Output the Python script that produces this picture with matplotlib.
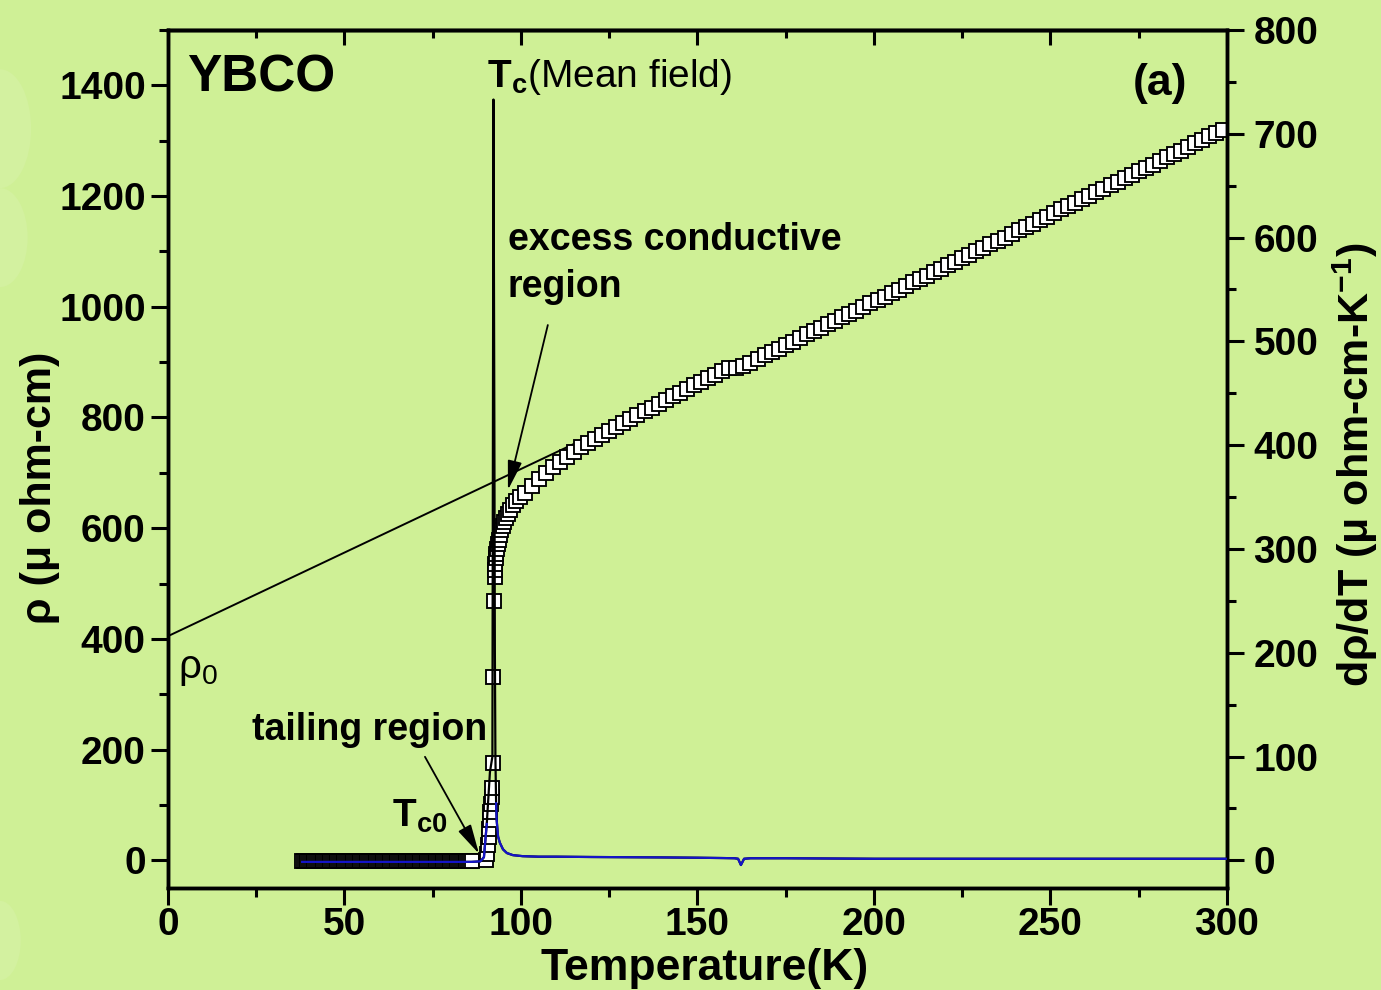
import numpy as np
import matplotlib.pyplot as plt
from matplotlib.ticker import MultipleLocator
from matplotlib.patches import Ellipse

plt.rcParams['font.family'] = ['Liberation Sans', 'DejaVu Sans']
plt.rcParams['mathtext.fontset'] = 'custom'
plt.rcParams['mathtext.rm'] = 'Liberation Sans'
plt.rcParams['mathtext.bf'] = 'Liberation Sans:bold'
plt.rcParams['mathtext.it'] = 'Liberation Sans:italic'
plt.rcParams['mathtext.default'] = 'regular'

# resistivity rho(T), micro-ohm cm
t_zero = [38.0, 38.5, 39.0, 39.5, 40.0, 40.5, 41.0, 41.5, 42.0, 42.5,
          43.0, 43.5, 44.0, 44.5, 45.0, 45.5, 46.0, 46.5, 47.0, 47.5,
          48.0, 48.5, 49.0, 49.5, 50.0, 50.5, 51.0, 51.5, 52.0, 52.5,
          53.0, 53.5, 54.0, 54.5, 55.0, 55.5, 56.0, 56.5, 57.0, 57.5,
          58.0, 58.5, 59.0, 59.5, 60.0, 60.5, 61.0, 61.5, 62.0, 62.5,
          63.0, 63.5, 64.0, 64.5, 65.0, 65.5, 66.0, 66.5, 67.0, 67.5,
          68.0, 68.5, 69.0, 69.5, 70.0, 70.5, 71.0, 71.5, 72.0, 72.5,
          73.0, 73.5, 74.0, 74.5, 75.0, 75.5, 76.0, 76.5, 77.0, 77.5,
          78.0, 78.5, 79.0, 79.5, 80.0, 80.5, 81.0, 81.5, 82.0, 82.5,
          83.0, 83.5, 84.0, 84.5, 85.0, 85.5, 86.0]
rho_zero = [-2.0] * len(t_zero)

t_tail = [90.0, 90.3, 90.6, 90.8, 91.0, 91.2, 91.35, 91.5, 91.65, 91.8, 91.95]
rho_tail = [0, 12, 27, 42, 57, 72, 87, 101, 115, 130, 175]

t_trans = [92.2, 92.45, 92.5, 92.6, 92.7, 92.85, 93.0, 93.2, 93.45, 93.7,
           94.0, 94.4, 94.8, 95.2, 95.7, 96.3, 97.0, 97.8, 98.7, 99.7]
rho_trans = [332, 469, 511, 525, 536, 546, 554, 562, 571, 579,
             587, 596, 604, 611, 618, 625, 633, 641, 649, 656]

t_normal = [101, 103, 105, 107, 109, 111, 113, 115, 117, 119,
            121, 123, 125, 127, 129, 131, 133, 135, 137, 139,
            141, 143, 145, 147, 149, 151, 153, 155, 157, 159,
            161, 163, 165, 167, 169, 171, 173, 175, 177, 179,
            181, 183, 185, 187, 189, 191, 193, 195, 197, 199,
            201, 203, 205, 207, 209, 211, 213, 215, 217, 219,
            221, 223, 225, 227, 229, 231, 233, 235, 237, 239,
            241, 243, 245, 247, 249, 251, 253, 255, 257, 259,
            261, 263, 265, 267, 269, 271, 273, 275, 277, 279,
            281, 283, 285, 287, 289, 291, 293, 295, 297, 299]
rho_normal = [664, 677, 689, 700, 710, 720, 729, 738, 746, 754,
              762, 769, 776, 783, 790, 797, 804, 811, 818, 825,
              832, 838, 845, 851, 858, 864, 871, 877, 884, 890,
              889, 893, 899, 906, 912, 918, 924, 931, 937, 943,
              950, 956, 962, 968, 975, 981, 987, 993, 1000, 1006,
              1012, 1018, 1025, 1031, 1037, 1044, 1050, 1056, 1062, 1069,
              1075, 1081, 1088, 1094, 1100, 1106, 1113, 1119, 1125, 1132,
              1138, 1144, 1150, 1157, 1163, 1169, 1176, 1182, 1188, 1194,
              1201, 1207, 1213, 1220, 1226, 1232, 1238, 1245, 1251, 1257,
              1264, 1270, 1276, 1282, 1289, 1295, 1301, 1308, 1314, 1320]

# d(rho)/dT, micro-ohm cm / K
t_deriv = [38, 50, 60, 70, 80, 86, 88.5, 89.5, 90.3, 91.2,
           91.9, 92.2, 92.45, 92.6, 92.75, 92.95, 93.1, 93.5, 94.0, 94.9,
           96.0, 97.7, 100.5, 105, 110, 120, 130, 140, 150, 157,
           160.5, 161.5, 162.3, 163.2, 165, 175, 200, 225, 250, 275, 300]
drho_dT = [-1.5, -1.5, -1.5, -1.5, -1.5, -1.5, -1, 3, 35, 85,
           100, 733, 420, 200, 100, 55, 39, 23, 17, 10.6,
           7, 5, 4, 3.5, 3.5, 3.2, 3, 2.8, 2.5, 2.2,
           2, 1.5, -4.5, 1.5, 2, 2, 1.5, 1.5, 1.5, 1.5, 1.5]

# linear normal-state fit extrapolated to T = 0 (rho_0)
fit_T = [0, 300]
fit_rho = [405, 1311]

bg = '#cff096'
fig = plt.figure(figsize=(13.81, 9.9), dpi=100, facecolor=bg)
for cx, cy, w, h in [(0.0, 0.87, 0.045, 0.12), (0.0, 0.76, 0.04, 0.10), (0.0, 0.05, 0.03, 0.08)]:
    fig.patches.append(Ellipse((cx, cy), w, h, transform=fig.transFigure,
                               color='#d8f2aa', alpha=0.5, lw=0))

ax = fig.add_axes([0.12165, 0.10303, 0.76683, 0.86667])
ax.set_facecolor(bg)
ax.patch.set_alpha(0.0)

ax.plot(fit_T, fit_rho, color='black', lw=1.4, zorder=1)

t_all = t_zero + t_tail + t_trans + t_normal
rho_all = rho_zero + rho_tail + rho_trans + rho_normal
ax.plot(t_all, rho_all, 's', ms=10.2, mfc='white', mec='black', mew=1.35, zorder=2)

ax.set_xlim(0, 300)
ax.set_ylim(-50, 1500)
ax.set_xticks([0, 50, 100, 150, 200, 250, 300])
ax.xaxis.set_minor_locator(MultipleLocator(25))
ax.set_yticks([0, 200, 400, 600, 800, 1000, 1200, 1400])
ax.yaxis.set_minor_locator(MultipleLocator(100))
ax.tick_params(which='both', direction='out', width=2.2, top=False, right=False)
ax.tick_params(which='major', length=12)
ax.tick_params(which='minor', length=6.5)
ax.tick_params(axis='x', which='major', pad=2, labelsize=28)
ax.tick_params(axis='y', which='major', pad=4, labelsize=28)
for lab in ax.get_xticklabels() + ax.get_yticklabels():
    lab.set_fontweight('bold')
for sp in ax.spines.values():
    sp.set_linewidth(2.5)

# top axis: ticks pointing in, no labels
sec = ax.secondary_xaxis('top')
sec.set_xticks([0, 50, 100, 150, 200, 250, 300])
sec.xaxis.set_minor_locator(MultipleLocator(25))
sec.tick_params(which='both', direction='in', width=2.2, labeltop=False)
sec.tick_params(which='major', length=11)
sec.tick_params(which='minor', length=6)
sec.spines['top'].set_linewidth(2.5)

ax.set_xlabel('Temperature(K)', fontsize=32, fontweight='bold')
ax.xaxis.label.set_va('baseline')
ax.xaxis.set_label_coords(0.507, -0.107)
ax.set_ylabel('ρ (μ ohm-cm)', fontsize=31, fontweight='bold')
ax.yaxis.label.set_va('center')
ax.yaxis.set_label_coords(-0.121, 0.467)

# derivative on the right axis
ax2 = ax.twinx()
ax2.plot(t_deriv, drho_dT, color='black', lw=1.6, zorder=3)
d = np.array(drho_dT)
ax2.plot(t_deriv, np.ma.masked_where(d > 60, d), color='#1515c8', lw=1.6, zorder=4)
ax2.set_ylim(-800 / 30, 800)
ax2.set_yticks([0, 100, 200, 300, 400, 500, 600, 700, 800])
ax2.yaxis.set_minor_locator(MultipleLocator(50))
ax2.tick_params(which='both', direction='out', width=2.2)
ax2.tick_params(which='major', length=12, pad=7, labelsize=28)
ax2.tick_params(which='minor', length=6.5)
for lab in ax2.get_yticklabels():
    lab.set_fontweight('bold')
for sp in ax2.spines.values():
    sp.set_linewidth(2.5)
ax2.set_ylabel('dρ/dT (μ ohm-cm-K$^{-1}$)', fontsize=31, fontweight='bold')
ax2.yaxis.label.set_va('center')
ax2.yaxis.label.set_rotation(90)
ax2.yaxis.set_label_coords(1.1209, 0.493)

# annotations (left-axis data coordinates)
ax.text(5.4, 1388, 'YBCO', fontsize=37, fontweight='bold', ha='left', va='baseline')
ax.text(288.7, 1383, '(a)', fontsize=32, fontweight='bold', ha='right', va='baseline')
ax.text(90.4, 1397, r'$\mathbf{T_c}$(Mean field)', fontsize=28, ha='left', va='baseline')
ax.text(96.3, 1103, 'excess conductive', fontsize=27, fontweight='bold', ha='left', va='baseline')
ax.text(96.3, 1017, 'region', fontsize=27, fontweight='bold', ha='left', va='baseline')
ax.text(23.8, 217, 'tailing region', fontsize=27, fontweight='bold', ha='left', va='baseline')
ax.text(2.8, 329, 'ρ$_0$', fontsize=29, ha='left', va='baseline')
ax.text(63.5, 60, 'T$_{c0}$', fontsize=28, fontweight='bold', ha='left', va='baseline')

arrow = dict(arrowstyle='-|>,head_length=0.9,head_width=0.22', color='black', lw=1.3,
             shrinkA=0, shrinkB=0, mutation_scale=20)
ax.annotate('', xy=(96.3, 669), xytext=(107.6, 967), arrowprops=arrow, zorder=5)
ax.annotate('', xy=(88.1, 12), xytext=(72.8, 187), arrowprops=arrow, zorder=5)

fig.savefig('out.png', dpi=100, facecolor=fig.get_facecolor())
